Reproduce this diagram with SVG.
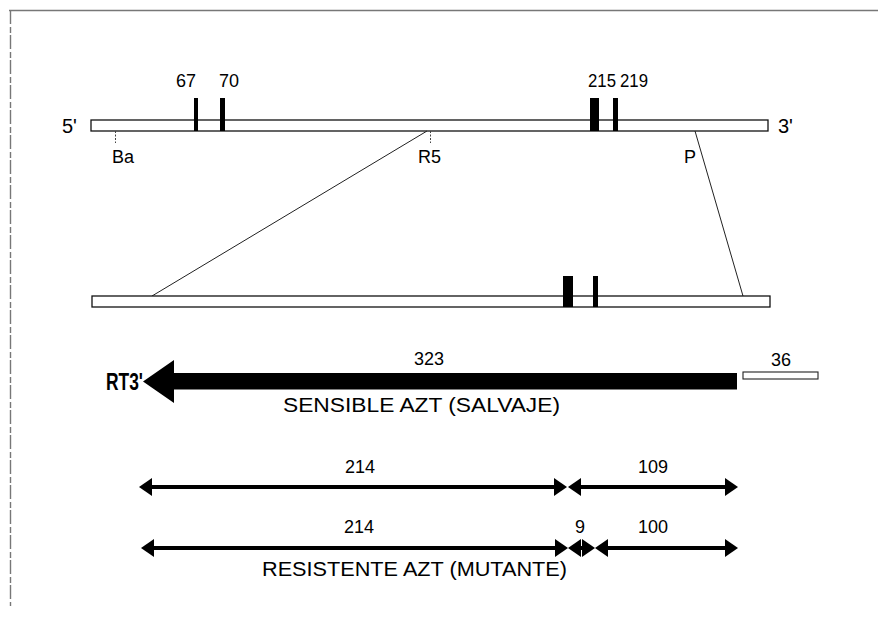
<svg xmlns="http://www.w3.org/2000/svg" width="878" height="621" viewBox="0 0 878 621">
<style>
text{font-family:"Liberation Sans",Arial,Helvetica,sans-serif;fill:#000}
.lbl{font-size:18px}
.end{font-size:20px}
.cap{font-size:19.5px}
.bar{fill:#fff;stroke:#111;stroke-width:1.3}
.mark{fill:#000}
.thin{stroke:#222;stroke-width:1;fill:none}
.tick{stroke:#444;stroke-width:1;stroke-dasharray:2 1.5;fill:none}
.frag{stroke:#000;stroke-width:4;fill:none;marker-start:url(#ah);marker-end:url(#ah)}
.frame{stroke:#777;stroke-width:1.4;fill:none}
</style>
<defs>
<marker id="ah" viewBox="0 0 13 18" refX="0" refY="9" markerWidth="13" markerHeight="18" markerUnits="userSpaceOnUse" orient="auto-start-reverse"><path d="M0,0 L13,9 L0,18 Z" fill="#000"/></marker>
</defs>
<g id="frame">
<path class="frame" d="M9,10.5 H878"/>
<path class="frame" d="M10.5,10 V606" stroke-dasharray="14 3 6 2"/>
</g>
<g id="gene-top">
<rect class="bar" x="91" y="120" width="677" height="11"/>
<text class="end" x="62" y="133">5'</text>
<text class="end" x="778" y="133">3'</text>
</g>
<g id="mut-67"><rect class="mark" x="194" y="98" width="4" height="33"/><text class="lbl" x="186" y="87" text-anchor="middle">67</text></g>
<g id="mut-70"><rect class="mark" x="220" y="98" width="5" height="33"/><text class="lbl" x="229" y="87" text-anchor="middle">70</text></g>
<g id="mut-215"><rect class="mark" x="590" y="98" width="9" height="33"/><text class="lbl" x="588" y="87" textLength="28" lengthAdjust="spacingAndGlyphs">215</text></g>
<g id="mut-219"><rect class="mark" x="613" y="98" width="5" height="33"/><text class="lbl" x="620" y="87" textLength="28" lengthAdjust="spacingAndGlyphs">219</text></g>
<g id="site-Ba"><path class="tick" d="M115.5,131 V143"/><text class="lbl" x="112" y="163">Ba</text></g>
<g id="site-R5"><path class="tick" d="M430.5,131 V143"/><text class="lbl" x="418" y="163">R5</text></g>
<g id="site-P"><text class="lbl" x="684" y="163">P</text></g>
<g id="connectors">
<path class="thin" d="M427,131 L152,296"/>
<path class="thin" d="M695,131 L743,296"/>
</g>
<g id="gene-mid">
<rect class="bar" x="92" y="296" width="678" height="11"/>
<rect class="mark" x="563" y="276" width="10" height="31"/>
<rect class="mark" x="593" y="276" width="5" height="31"/>
</g>
<g id="rt-arrow">
<path d="M143,381.5 L174,360 L174,373 L737,373 L737,389.5 L174,389.5 L174,403 Z" fill="#000"/>
<text x="106" y="390" font-size="23" font-weight="bold" textLength="37" lengthAdjust="spacingAndGlyphs">RT3'</text>
<text class="lbl" x="429" y="365" text-anchor="middle">323</text>
<text class="cap" x="283" y="412" textLength="277" lengthAdjust="spacingAndGlyphs">SENSIBLE AZT (SALVAJE)</text>
</g>
<g id="fragment-36">
<rect x="743" y="372" width="75" height="7" fill="#fff" stroke="#222" stroke-width="1.1"/>
<text class="lbl" x="781" y="366" text-anchor="middle">36</text>
</g>
<g id="row-wild">
<path class="frag" d="M152,487 H554"/>
<path class="frag" d="M581,487 H725"/>
<text class="lbl" x="360" y="473" text-anchor="middle">214</text>
<text class="lbl" x="653" y="473" text-anchor="middle">109</text>
</g>
<g id="row-mutant">
<path class="frag" d="M154,548 H555"/>
<path class="frag" d="M581,548 H582"/>
<path class="frag" d="M608,548 H725"/>
<text class="lbl" x="359" y="533" text-anchor="middle">214</text>
<text class="lbl" x="580" y="533" text-anchor="middle">9</text>
<text class="lbl" x="653" y="533" text-anchor="middle">100</text>
<text class="cap" x="262" y="576" textLength="305" lengthAdjust="spacingAndGlyphs">RESISTENTE AZT (MUTANTE)</text>
</g>
</svg>
